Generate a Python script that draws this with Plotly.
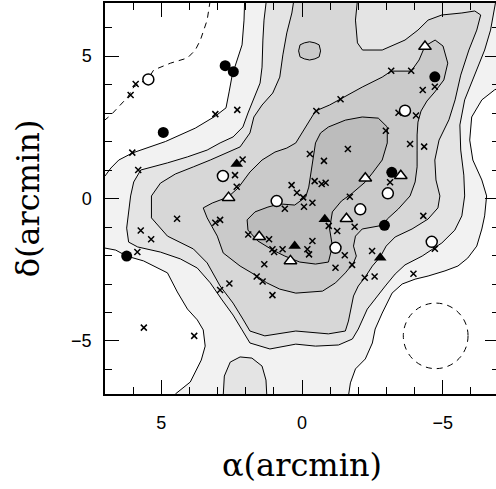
import plotly.graph_objects as go

# ---------------- contour outlines (alpha, delta in arcmin) ----------------
lvl1_a = [2.02, 2.06, 2.13, 2.34, 2.48, 2.59, 2.70, 3.08, 3.79, 4.85, 6.02, 6.51, 6.79, 7.0, 7.5, 7.5, 7.0, 6.62, 6.23, 5.63,
          4.78, 4.43, 4.07, 3.72, 3.51, 3.44, 3.58, 3.97, 4.50, 4.60, -1.70, -1.65, -1.72, -1.90, -2.25, -2.50, -2.60, -2.85, -3.20, -3.56,
          -4.02, -4.48, -5.08, -5.54, -5.89, -6.21, -6.39, -6.49, -6.56, -6.39, -6.07, -5.96, -6.03, -6.39, -6.84, -7.16, -7.5, -7.5]
lvl1_d = [7.5, 6.26, 5.39, 4.79, 4.33, 3.74, 3.18, 2.89, 2.47, 2.0, 1.60, 1.35, 1.07, 0.79, 0.79, -1.74, -1.74, -1.81, -2.02, -2.19,
          -2.61, -3.28, -3.88, -4.26, -4.61, -5.18, -5.67, -6.44, -6.86, -7.5, -7.5, -6.93, -6.47, -5.98, -5.63, -5.07, -4.58, -4.02, -3.32, -3.00,
          -2.83, -2.72, -2.54, -2.37, -2.09, -1.67, -1.07, -0.61, 0.09, 0.65, 1.35, 2.05, 2.86, 3.46, 3.81, 3.95, 3.95, 7.5]

lvl2_a = [1.20, 1.35, 1.39, 1.42, 1.49, 1.74, 1.92, 2.10, 2.45, 2.91, 3.37, 4.07, 4.78, 5.73, 5.98, 6.09, 6.16, 6.23, 6.16, 5.84,
          5.03, 4.32, 3.72, 3.26, 2.84, 2.45, 2.13, 1.85, 1.14, 0.22, -0.48, -1.30, -1.79, -2.00, -2.32, -2.67, -2.96, -3.31, -3.66, -4.27,
          -4.65, -4.97, -5.43, -5.68, -5.78, -5.75, -5.64, -5.61, -5.78, -6.14, -6.49, -6.70, -6.84, -6.99, -7.5, 1.20]
lvl2_d = [7.5, 6.26, 5.56, 4.61, 4.05, 3.46, 3.00, 2.51, 2.16, 1.95, 1.70, 1.46, 1.25, 1.00, 0.58, 0.09, -0.47, -1.04, -1.53, -1.70,
          -1.88, -2.12, -2.44, -2.96, -3.56, -4.09, -4.61, -5.07, -5.28, -5.11, -5.18, -5.14, -4.93, -4.58, -3.88, -3.42, -3.07, -2.65, -2.33, -2.02,
          -1.77, -1.56, -1.11, -0.61, 0.09, 0.82, 1.70, 2.58, 3.46, 4.33, 5.21, 5.91, 6.61, 7.5, 7.5, 7.5]

isl2_a = [2.80, 2.80, 2.76, 2.55, 2.20, 1.78, 1.42, 1.28, 1.25, 1.25]
isl2_d = [-7.5, -6.93, -6.23, -5.74, -5.56, -5.60, -5.88, -6.37, -6.93, -7.5]

lvl3_a = [0.26, 0.29, 0.36, 0.54, 0.68, 0.79, 1.04, 1.42, 1.71, 1.85, 2.20, 2.66, 3.26, 3.86, 4.50, 5.03, 5.35, 5.35, 4.78, 3.86,
          3.37, 2.91, 2.45, 2.10, 1.85, 1.32, 0.22, -0.94, -1.54, -1.65, -1.72, -1.83, -2.00, -2.25, -2.50, -2.78, -2.99, -3.31, -3.91, -4.48,
          -4.83, -4.90, -4.76, -4.72, -4.87, -5.22, -5.44, -5.64, -5.93, -6.21, -6.35, -6.14, -5.68, -4.97, -4.48, -4.12, -3.66, -2.85, -2.15, -1.97,
          -1.90, -1.97, -1.97]
lvl3_d = [7.5, 6.96, 6.51, 5.81, 5.04, 4.26, 3.70, 3.28, 2.86, 2.30, 1.81, 1.60, 1.35, 1.11, 0.86, 0.54, 0.09, -0.68, -1.32, -1.77,
          -2.26, -3.07, -3.67, -4.23, -4.65, -4.82, -4.65, -4.75, -4.65, -4.30, -3.95, -3.42, -3.07, -2.75, -2.37, -2.05, -1.67, -1.35, -1.07, -0.72,
          -0.33, 0.09, 0.65, 1.35, 2.05, 2.76, 3.46, 4.33, 5.21, 5.91, 6.44, 6.58, 6.51, 6.44, 6.26, 5.91, 5.56, 5.21, 5.21, 5.46,
          6.26, 6.96, 7.5]

lvl4_a = [0.22, -0.48, -0.98, -1.37, -2.14, -2.85, -3.17, -3.88, -4.16, -4.37, -4.73, -5.01, -5.18, -5.04, -4.72, -4.44, -4.23, -4.12, -4.09, -4.09,
          -4.09, -4.02, -3.84, -3.42, -3.03, -2.92, -2.14, -1.90, -1.83, -1.93, -1.83, -1.54, -1.19, -0.73, 0.22, 0.79, 1.25, 1.60, 2.20, 2.80,
          3.01, 3.37, 3.51, 3.19, 2.63, 2.27, 1.85, 1.42, 0.96, 0.54, 0.22]
lvl4_d = [1.95, 3.07, 3.28, 3.49, 3.91, 4.26, 4.47, 4.47, 4.86, 5.35, 5.56, 5.35, 4.75, 4.16, 3.74, 3.42, 3.07, 2.68, 2.23, 1.70,
          1.11, 0.58, 0.09, -0.37, -0.72, -0.93, -1.07, -1.32, -1.67, -2.02, -2.26, -2.61, -2.96, -3.25, -3.32, -3.18, -2.96, -2.72, -2.37, -1.91,
          -1.32, -0.68, -0.33, -0.16, 0.05, 0.37, 0.93, 1.35, 1.63, 1.77, 1.95]

isl4_a = [0.12, 0.07, -0.08, -0.27, -0.46, -0.61, -0.66, -0.61, -0.46, -0.27, -0.08, 0.07, 0.12]
isl4_d = [5.18, 5.39, 5.46, 5.50, 5.46, 5.39, 5.18, 4.97, 4.90, 4.86, 4.90, 4.97, 5.18]

lvl5_a = [-0.66, -0.94, -1.54, -2.14, -2.71, -3.03, -3.03, -2.85, -2.50, -2.25, -1.79, -1.40, -1.08, -0.98, -1.08, -0.94, -0.48, 0.08, 0.61, 1.04,
          1.57, 1.92, 1.95, 1.67, 1.21, 0.79, 0.26, -0.13, -0.24, -0.31, -0.38, -0.48, -0.66]
lvl5_d = [2.30, 2.51, 2.75, 2.86, 2.82, 2.51, 1.95, 1.35, 0.89, 0.58, 0.19, -0.09, -0.47, -1.07, -1.67, -2.23, -2.30, -2.23, -2.02, -1.81,
          -1.49, -1.11, -0.75, -0.47, -0.30, -0.19, -0.23, 0.05, 0.40, 0.89, 1.35, 1.95, 2.30]

level_colors = ["#f2f2f2", "#e4e4e4", "#d7d7d7", "#cacaca", "#bcbcbc"]

# dashed boundary line (top left)
dash_a = [3.18, 3.26, 3.37, 3.61, 3.79, 4.07, 4.67, 5.27, 5.45, 5.98, 6.19, 6.62, 6.79, 7.01]
dash_d = [7.31, 6.96, 6.26, 5.56, 5.21, 4.93, 4.75, 4.51, 4.23, 3.91, 3.56, 3.11, 2.93, 2.75]

# beam circle
beam_center = (-4.75, -4.82)
beam_radius = 1.15

# ---------------- point sources ----------------
cross_a = [5.91, 6.09, 3.08, 2.30, 6.03, 5.82, 2.11, 2.38, 2.32, 0.37, 0.18,
           -4.72, -4.29, -3.17, -3.88, -1.37, -0.51, -3.43, -4.05, -2.98, -3.84, -4.34, -1.63, -0.28, -0.78,
           -3.13, -0.45, -0.70, -0.84, -0.04, -1.70,
           5.85, 5.73, 5.36, 4.44, 0.61, 3.08, 2.91, 1.91, 1.17, 1.05, 0.99, 0.69, 1.34, 1.61, 1.40, 2.58, 2.91, 1.05, 5.62, 3.83,
           -0.37, -0.07, -0.95, -1.25, -1.87, -4.31, -4.72, -0.37, -0.19, -0.25, -1.52, -2.49, -1.78, -1.19, -2.23, -2.58, -3.96]
cross_d = [4.02, 3.63, 2.96, 3.11, 1.61, 1.00, 1.37, 0.82, 0.41, 0.47, 0.20,
           3.92, 3.81, 4.48, 4.48, 3.48, 3.07, 3.01, 2.91, 2.38, 1.91, 1.82, 1.74, 1.56, 1.32,
           0.57, 0.61, 0.51, 0.55, 0.04, 0.06,
           -1.88, -1.12, -1.43, -0.71, -0.36, -0.85, -0.75, -1.26, -1.43, -1.78, -1.88, -1.78, -2.31, -2.74, -2.91, -2.98, -3.21, -3.39, -4.53, -4.82,
           -0.15, -0.29, -0.96, -1.14, -0.99, -0.61, -1.76, -1.49, -1.78, -1.96, -1.99, -1.84, -2.33, -2.43, -2.78, -2.74, -2.64]

fcirc_a = [2.73, 2.44, 4.93, 6.23, -4.72, -3.19, -2.93]
fcirc_d = [4.66, 4.45, 2.32, -2.02, 4.27, 0.92, -0.94]

ocirc_a = [5.46, 2.81, 0.90, -3.66, -3.05, -2.07, -1.19, -4.61]
ocirc_d = [4.18, 0.79, -0.09, 3.08, 0.18, -0.38, -1.73, -1.52]

ftri_a = [2.32, 0.26, -0.81, -2.78]
ftri_d = [1.21, -1.67, -0.73, -2.08]

otri_a = [2.61, 1.52, 0.41, -1.58, -2.25, -3.51, -4.37]
otri_d = [0.03, -1.34, -2.19, -0.71, 0.71, 0.80, 5.33]

x_tick_vals = [5, 0, -5]
x_tick_text = ["5", "0", "\u22125"]
y_tick_vals = [5, 0, -5]
y_tick_text = ["5", "0", "\u22125"]

# ---------------- figure ----------------
fig = go.Figure()


def add_poly(a, d, color):
    fig.add_trace(go.Scatter(x=a, y=d, mode="lines", fill="toself", fillcolor=color,
                             line=dict(color="black", width=1), hoverinfo="skip", showlegend=False))


add_poly(lvl1_a, lvl1_d, level_colors[0])
add_poly(lvl2_a, lvl2_d, level_colors[1])
add_poly(isl2_a, isl2_d, level_colors[1])
add_poly(lvl3_a, lvl3_d, level_colors[2])
add_poly(lvl4_a, lvl4_d, level_colors[3])
add_poly(isl4_a, isl4_d, level_colors[3])
add_poly(lvl5_a, lvl5_d, level_colors[4])

fig.add_trace(go.Scatter(x=dash_a, y=dash_d, mode="lines",
                         line=dict(color="black", width=1, dash="6px,5px"), hoverinfo="skip", showlegend=False))

fig.add_trace(go.Scatter(x=cross_a, y=cross_d, mode="markers", showlegend=False,
                         marker=dict(symbol="x-thin", size=6, line=dict(color="black", width=1.5))))
fig.add_trace(go.Scatter(x=fcirc_a, y=fcirc_d, mode="markers", showlegend=False,
                         marker=dict(symbol="circle", size=11, color="black", line=dict(width=0))))
fig.add_trace(go.Scatter(x=ocirc_a, y=ocirc_d, mode="markers", showlegend=False,
                         marker=dict(symbol="circle", size=11, color="white", line=dict(color="black", width=1.5))))
fig.add_trace(go.Scatter(x=ftri_a, y=ftri_d, mode="markers", showlegend=False,
                         marker=dict(symbol="triangle-up", size=11, color="black", line=dict(width=0))))
fig.add_trace(go.Scatter(x=otri_a, y=otri_d, mode="markers", showlegend=False,
                         marker=dict(symbol="triangle-up", size=11, color="white", line=dict(color="black", width=1.5))))

fig.add_shape(type="circle", xref="x", yref="y",
              x0=beam_center[0] - beam_radius, x1=beam_center[0] + beam_radius,
              y0=beam_center[1] - beam_radius, y1=beam_center[1] + beam_radius,
              line=dict(color="black", width=1, dash="6px,5px"))

axis_common = dict(showline=True, linecolor="black", linewidth=1.5, mirror="allticks",
                   ticks="inside", ticklen=14, tickwidth=1.2, tickcolor="black",
                   showgrid=False, zeroline=False,
                   tickfont=dict(family="Liberation Sans, Arial, sans-serif", size=18, color="black"),
                   minor=dict(ticks="inside", ticklen=7, tickwidth=1, tickcolor="black", dtick=1, tick0=0, showgrid=False))

title_font = dict(family="DejaVu Serif, serif", size=32, color="black")

fig.update_xaxes(range=[7, -7], tickmode="array", tickvals=x_tick_vals, ticktext=x_tick_text,
                 ticklabelstandoff=12,
                 title=dict(text="\u03b1(arcmin)", font=title_font, standoff=21),
                 **axis_common)
fig.update_yaxes(range=[-6.86, 6.86], tickmode="array", tickvals=y_tick_vals, ticktext=y_tick_text,
                 ticklabelstandoff=8,
                 title=dict(text="\u03b4(arcmin)", font=title_font, standoff=22),
                 **axis_common)

fig.update_layout(width=502, height=489, margin=dict(l=105, r=1, t=3, b=95),
                  paper_bgcolor="white", plot_bgcolor="white", showlegend=False)

fig.write_html("out.html", config={"displayModeBar": False},
               post_script="document.body.style.margin='0px';document.body.style.overflow='hidden';")
